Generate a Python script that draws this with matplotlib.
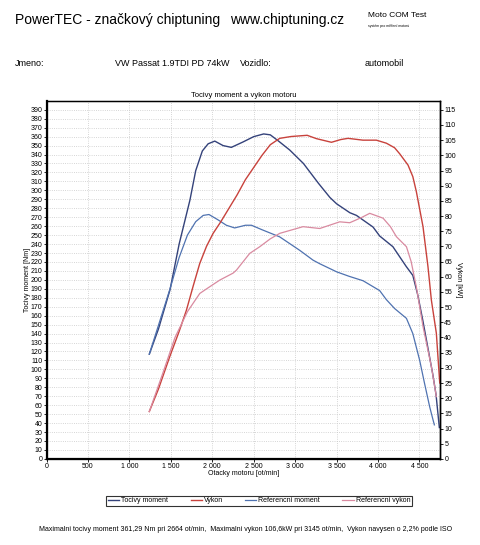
import matplotlib
matplotlib.use("Agg")
import matplotlib.pyplot as plt
from matplotlib.ticker import MultipleLocator, FuncFormatter

plt.rcParams['font.family'] = ['Liberation Sans', 'DejaVu Sans']

torque_rpm = [1240, 1350, 1490, 1600, 1730, 1800, 1880, 1950, 2030, 2130, 2230, 2370, 2500, 2620,
              2700, 2800, 2935, 3100, 3280, 3420, 3500, 3660, 3740, 3940, 4020, 4180, 4340, 4420,
              4480, 4540, 4600, 4660, 4700, 4740]
torque_nm = [117, 145, 189, 240, 289, 322, 344, 352, 355, 350, 348, 354, 360, 363,
             362, 355, 345, 330, 308, 292, 285, 275, 272, 259, 249, 237, 215, 205,
             183, 155, 125, 95, 72, 35]

power_rpm = [1240, 1350, 1487, 1600, 1688, 1770, 1849, 1930, 2010, 2100, 2200, 2300, 2400, 2500,
             2600, 2700, 2814, 2950, 3145, 3257, 3438, 3550, 3638, 3819, 3980, 4101, 4200, 4262,
             4362, 4420, 4463, 4543, 4603, 4644, 4704, 4745]
power_kw = [15.6, 23, 33.7, 42, 49, 57, 64.4, 70, 74.3, 78, 82.5, 87, 92, 96,
            100, 103.5, 105.6, 106.2, 106.6, 105.5, 104.3, 105.2, 105.6, 105.0, 105.0, 104, 102.5, 100.5,
            96.8, 93, 88, 76.5, 63.3, 52.3, 41.4, 25]

ref_torque_rpm = [1240, 1490, 1600, 1700, 1800, 1890, 1960, 2070, 2170, 2270, 2400, 2473, 2600, 2814,
                  3055, 3216, 3297, 3500, 3650, 3820, 4020, 4100, 4200, 4343, 4420, 4503, 4560, 4624,
                  4660, 4680]
ref_torque_nm = [117, 190, 225, 250, 265, 272, 273, 267, 261, 258, 261, 261, 256, 248,
                 233, 222, 218, 209, 204, 199, 188, 178, 168, 157, 140, 110, 85, 58,
                 45, 38]

ref_power_rpm = [1240, 1400, 1550, 1700, 1849, 1930, 2090, 2251, 2292, 2452, 2573, 2700, 2814, 3095,
                 3297, 3538, 3659, 3800, 3900, 4061, 4150, 4222, 4343, 4400, 4463, 4543, 4644, 4704]
ref_power_kw = [15.6, 28, 40, 48.5, 54.5, 56, 58.9, 61.2, 62.2, 67.7, 69.9, 72.5, 74.3, 76.5,
                75.9, 78.1, 77.8, 79.5, 80.9, 79.3, 76.5, 73.2, 69.9, 65, 56.6, 43.6, 30.4, 20.5]

c_torque = '#34427a'
c_power = '#c8423c'
c_ref_torque = '#4f72b0'
c_ref_power = '#d98aa0'

fig = plt.figure(figsize=(4.8, 5.45), dpi=100)
ax = fig.add_axes([0.097, 0.158, 0.820, 0.657])
ax2 = ax.twinx()

l1, = ax.plot(torque_rpm, torque_nm, color=c_torque, lw=1.0, label='Tocivy moment')
l3, = ax.plot(ref_torque_rpm, ref_torque_nm, color=c_ref_torque, lw=0.9, label='Referencni moment')
l2, = ax2.plot(power_rpm, power_kw, color=c_power, lw=1.0, label='Vykon')
l4, = ax2.plot(ref_power_rpm, ref_power_kw, color=c_ref_power, lw=0.9, label='Referencni vykon')

ax.set_xlim(0, 4750)
ax.set_ylim(0, 400)
ax2.set_ylim(0, 400 / 3.391)

ax.xaxis.set_major_locator(MultipleLocator(500))
ax.xaxis.set_major_formatter(FuncFormatter(lambda v, p: f"{int(v):,}".replace(",", " ")))
ax.set_yticks(range(0, 391, 10))
ax2.set_yticks(range(0, 116, 5))

ax.grid(True, color='#c8c8c8', linestyle=':', lw=0.6)
ax.set_axisbelow(True)
ax.tick_params(labelsize=5, length=2, width=0.6, pad=1)
ax2.tick_params(labelsize=5, length=2, width=0.6, pad=1)

for sp in ax.spines.values():
    sp.set_linewidth(1.0)
ax.spines['left'].set_linewidth(1.6)
ax.spines['bottom'].set_linewidth(1.6)
ax2.spines['right'].set_linewidth(1.0)

ax.set_xlabel('Otacky motoru [ot/min]', fontsize=5, labelpad=0)
ax.set_ylabel('Tocivy moment [Nm]', fontsize=5, labelpad=0)
ax2.set_ylabel('Vykon [kW]', fontsize=5, rotation=270, labelpad=4)
ax.set_title('Tocivy moment a vykon motoru', fontsize=5.5, pad=3)

leg = fig.legend(handles=[l1, l2, l3, l4], loc='center', bbox_to_anchor=(0.54, 0.081), ncol=4,
                 fontsize=5, frameon=True, fancybox=False, edgecolor='black', handlelength=1.6,
                 columnspacing=3.2, handletextpad=0.3, borderpad=0.25)
leg.get_frame().set_linewidth(0.8)

fig.text(0.031, 0.963, 'PowerTEC - značkový chiptuning', fontsize=10, va='center')
fig.text(0.479, 0.963, 'www.chiptuning.cz', fontsize=10, va='center')
fig.text(0.767, 0.971, 'Moto COM Test', fontsize=6, va='center')
fig.text(0.767, 0.953, 'systém pro měření motorů', fontsize=2.5, va='center')

fig.text(0.031, 0.883, 'Jmeno:', fontsize=6.5, va='center')
fig.text(0.24, 0.883, 'VW Passat 1.9TDI PD 74kW', fontsize=6.5, va='center')
fig.text(0.50, 0.883, 'Vozidlo:', fontsize=6.5, va='center')
fig.text(0.76, 0.883, 'automobil', fontsize=6.5, va='center')

fig.text(0.512, 0.028, 'Maximalni tocivy moment 361,29 Nm pri 2664 ot/min,  Maximalni vykon 106,6kW '
         'pri 3145 ot/min,  Vykon navysen o 2,2% podle ISO', fontsize=5, ha='center', va='center')

fig.savefig('out.png', dpi=100)
